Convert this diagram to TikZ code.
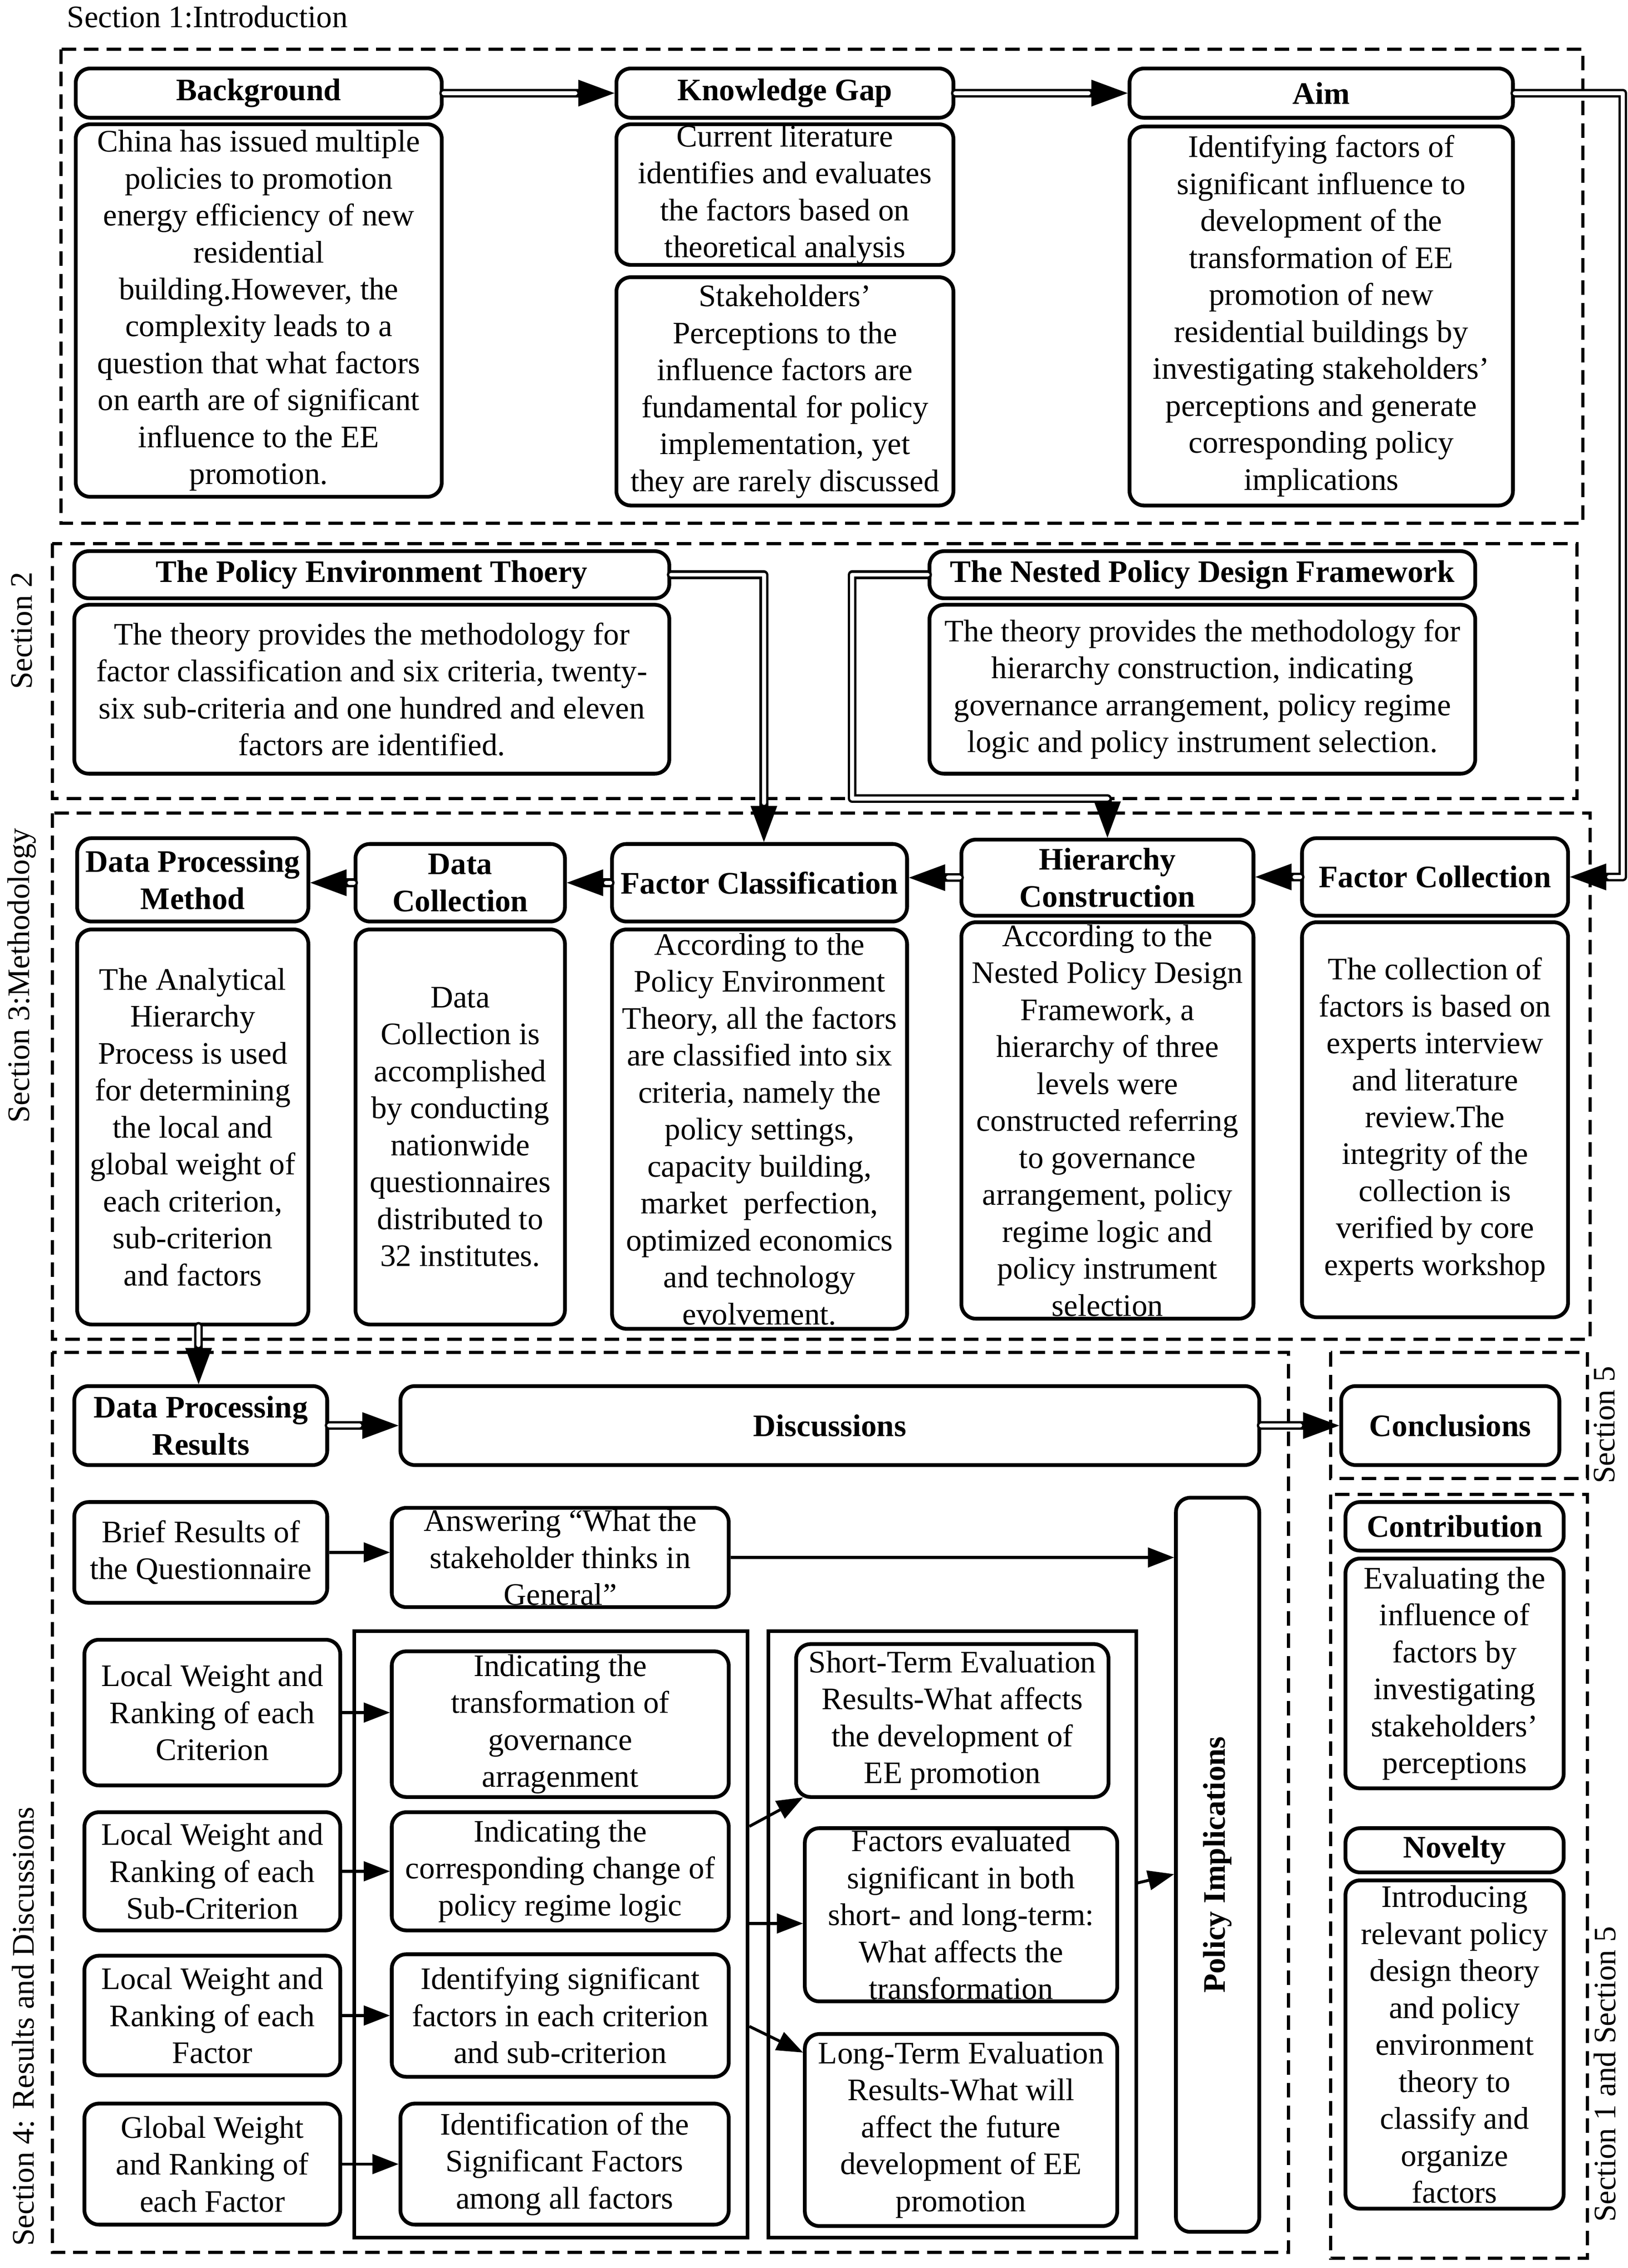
\documentclass[tikz,border=0pt]{standalone}
\usepackage{fontspec}
\setmainfont{Liberation Serif}
\usetikzlibrary{arrows.meta}
\newcommand{\myfs}{\fontsize{21.6pt}{25.5pt}\selectfont}
\newcommand{\bx}[7][]{%
  \pgfmathsetmacro{\bxw}{#5-#3-2.5}%
  \pgfmathsetmacro{\bxh}{#6-#4-2.5}%
  \pgfmathsetmacro{\bxcx}{(#3+#5)/2}%
  \pgfmathsetmacro{\bxcy}{(#4+#6)/2}%
  \node[box,minimum width=\bxw pt,minimum height=\bxh pt,#1] (#2) at (\bxcx,\bxcy) {#7};}
\begin{document}
\begin{tikzpicture}[x=1pt,y=-1pt,
  box/.style={draw, line width=2.6pt, rounded corners=10pt, align=center, inner sep=0pt, font=\myfs, fill=white},
  hdr/.style={font=\myfs\bfseries},
  cont/.style={line width=2.5pt, sharp corners, fill=none},
  sec/.style={draw, line width=2.2pt, dash pattern=on 10pt off 5.5pt},
  lbl/.style={font=\myfs, inner sep=0pt},
  dbl/.style={draw=black, line width=6pt, line cap=round, line join=round,
    -{Triangle[length=25pt,width=18.5pt,line width=0pt]},
    postaction={draw=white, line width=2.8pt, -, shorten >=27pt}},
  sgl/.style={draw=black, line width=2pt, -{Triangle[length=18pt,width=14pt,line width=0pt]}}]
\useasboundingbox (0,0) rectangle (1123,1564.7);

% section frames
\draw[sec] (42,34) rectangle (1092,361);
\draw[sec] (36,375) rectangle (1088,551);
\draw[sec] (36,561) rectangle (1097,924);
\draw[sec] (36,933) rectangle (889,1554);
\draw[sec] (918,933) rectangle (1095,1020);
\draw[sec] (918,1031) rectangle (1095,1558);

% section labels
\node[lbl, anchor=base west] (t1) at (46,19) {Section 1:Introduction};
\node[lbl, rotate=90] (t2) at (15,435) {Section 2};
\node[lbl, rotate=90] (t3) at (15,673) {Section 3:Methodology};
\node[lbl, rotate=90] (t4) at (16,1398) {Section 4: Results and Discussions};
\node[lbl, rotate=90] (t5) at (1107,983) {Section 5};
\node[lbl, rotate=90] (t15) at (1107,1431) {Section 1 and Section 5};

% Section 1
\bx[hdr]{bg}{51}{46}{306}{82.5}{Background}
\bx{bgb}{51}{84.5}{306}{344}{China has issued multiple\\policies to promotion\\energy efficiency of new\\residential\\building.However, the\\complexity leads to a\\question that what factors\\on earth are of significant\\influence to the EE\\promotion.}
\bx[hdr]{kg}{424}{46}{659}{82.5}{Knowledge Gap}
\bx{kgb1}{424}{84.5}{659}{184}{Current literature\\identifies and evaluates\\the factors based on\\theoretical analysis}
\bx{kgb2}{424}{190}{659}{350}{Stakeholders’\\Perceptions to the\\influence factors are\\fundamental for policy\\implementation, yet\\they are rarely discussed}
\bx[hdr]{aim}{778}{46}{1045}{82.5}{Aim}
\bx{aimb}{778}{86}{1045}{350}{Identifying factors of\\significant influence to\\development of the\\transformation of EE\\promotion of new\\residential buildings by\\investigating stakeholders’\\perceptions and generate\\corresponding policy\\implications}

% Section 2
\bx[hdr]{pet}{50}{379}{463}{414}{The Policy Environment Thoery}
\bx{petb}{50}{416}{463}{535}{The theory provides the methodology for\\factor classification and six criteria, twenty-\\six sub-criteria and one hundred and eleven\\factors are identified.}
\bx[hdr]{npdf}{640}{379}{1019}{414}{The Nested Policy Design Framework}
\bx{npdfb}{640}{416}{1019}{535}{The theory provides the methodology for\\hierarchy construction, indicating\\governance arrangement, policy regime\\logic and policy instrument selection.}

% Section 3
\bx[hdr]{dpm}{52}{577}{214}{637}{Data Processing\\Method}
\bx{dpmb}{52}{640}{214}{915}{The Analytical\\Hierarchy\\Process is used\\for determining\\the local and\\global weight of\\each criterion,\\sub-criterion\\and factors}
\bx[hdr]{dc}{244}{581}{391}{637}{Data\\Collection}
\bx{dcb}{244}{640}{391}{915}{Data\\Collection is\\accomplished\\by conducting\\nationwide\\questionnaires\\distributed to\\32 institutes.}
\bx[hdr]{fcl}{421}{581}{627}{637}{Factor Classification}
\bx{fclb}{421}{640}{627}{918}{According to the\\Policy Environment\\Theory, all the factors\\are classified into six\\criteria, namely the\\policy settings,\\capacity building,\\market~ perfection,\\optimized economics\\and technology\\evolvement.}
\bx[hdr]{hc}{662}{578}{866}{633}{Hierarchy\\Construction}
\bx{hcb}{662}{635}{866}{911}{According to the\\Nested Policy Design\\Framework, a\\hierarchy of three\\levels were\\constructed referring\\to governance\\arrangement, policy\\regime logic and\\policy instrument\\selection}
\bx[hdr]{fco}{897}{577}{1083}{633}{Factor Collection}
\bx{fcob}{897}{635}{1083}{910}{The collection of\\factors is based on\\experts interview\\and literature\\review.The\\integrity of the\\collection is\\verified by core\\experts workshop}

% Section 4 containers
\bx[cont]{mid}{243}{1124}{517}{1545}{}
\bx[cont]{rc}{529}{1124}{785}{1545}{}

\bx[hdr]{dpr}{50}{955}{227}{1012}{Data Processing\\Results}
\bx[hdr]{disc}{275}{955}{870}{1012}{Discussions}
\bx[hdr]{concl}{924}{955}{1077}{1012}{Conclusions}
\bx{brief}{50}{1035}{227}{1107}{Brief Results of\\the Questionnaire}
\bx{ans}{269}{1039}{504}{1110}{Answering “What the\\stakeholder thinks in\\General”}
\bx{pi}{810}{1032}{870}{1541}{}
\node[rotate=90, font=\myfs\bfseries, inner sep=0pt] (pil) at (pi.center) {Policy Implications};

\bx{lwc}{57}{1130}{236}{1233}{Local Weight and\\Ranking of each\\Criterion}
\bx{lws}{57}{1249}{236}{1333}{Local Weight and\\Ranking of each\\Sub-Criterion}
\bx{lwf}{57}{1348}{236}{1433}{Local Weight and\\Ranking of each\\Factor}
\bx{gw}{57}{1450}{236}{1536}{Global Weight\\and Ranking of\\each Factor}

\bx{itr}{269}{1138}{504}{1241}{Indicating the\\transformation of\\governance\\arragenment}
\bx{icc}{269}{1249}{504}{1333}{Indicating the\\corresponding change of\\policy regime logic}
\bx{isf}{269}{1347}{504}{1434}{Identifying significant\\factors in each criterion\\and sub-criterion}
\bx{idf}{275}{1450}{504}{1536}{Identification of the\\Significant Factors\\among all factors}

\bx{st}{548}{1133}{766}{1241}{Short-Term Evaluation\\Results-What affects\\the development of\\EE promotion}
\bx{fe}{554}{1260}{772}{1382}{Factors evaluated\\significant in both\\short- and long-term:\\What affects the\\transformation}
\bx{lt}{554}{1402}{772}{1537}{Long-Term Evaluation\\Results-What will\\affect the future\\development of EE\\promotion}

% Section 1 and 5
\bx[hdr]{contr}{927}{1035}{1080}{1071}{Contribution}
\bx{contrb}{927}{1074}{1080}{1235}{Evaluating the\\influence of\\factors by\\investigating\\stakeholders’\\perceptions}
\bx[hdr]{nov}{927}{1260}{1080}{1293}{Novelty}
\bx{novb}{927}{1296}{1080}{1525}{Introducing\\relevant policy\\design theory\\and policy\\environment\\theory to\\classify and\\organize\\factors}

% helper coordinates
\coordinate (ya) at (0,1260);
\coordinate (yb) at (0,1327);
\coordinate (yc) at (0,1398);
\coordinate (yd) at (0,1416);
\coordinate (ye) at (0,1299);
\coordinate (yf) at (0,1293);

% double arrows
\draw[dbl] (bg.east) -- (kg.west);
\draw[dbl] (kg.east) -- (aim.west);
\draw[dbl] (aim.east) -- ++(74.5,0) |- (fco.east);
\draw[dbl] (pet.east) -| ([xshift=3pt]fcl.north);
\draw[dbl] (npdf.west) -- ++(-52,0) |- ([yshift=27pt]hc.north) -- (hc.north);
\draw[dbl] (fco.west) -- (fco.west -| hc.east);
\draw[dbl] (hc.west) -- (hc.west -| fcl.east);
\draw[dbl] (fcl.west) -- (fcl.west -| dc.east);
\draw[dbl] (dc.west) -- (dc.west -| dpm.east);
\draw[dbl] ([xshift=4pt]dpmb.south) -- ([xshift=-1.5pt]dpr.north);
\draw[dbl] (dpr.east) -- (dpr.east -| disc.west);
\draw[dbl] (disc.east) -- (disc.east -| concl.west);

% single arrows
\draw[sgl] (brief.east) -- (brief.east -| ans.west);
\draw[sgl] (ans.east) -- (ans.east -| pi.west);
\draw[sgl] (lwc.east) -- (lwc.east -| itr.west);
\draw[sgl] (lws.east) -- (lws.east -| icc.west);
\draw[sgl] (lwf.east) -- (lwf.east -| isf.west);
\draw[sgl] (gw.east) -- (gw.east -| idf.west);
\draw[sgl] (mid.east |- ya) -- ([xshift=6pt,yshift=1pt]st.south west);
\draw[sgl] (mid.east |- yb) -- (fe.west |- yb);
\draw[sgl] (mid.east |- yc) -- (lt.west |- yd);
\draw[sgl] (rc.east |- ye) -- (pi.west |- yf);
\end{tikzpicture}
\end{document}
